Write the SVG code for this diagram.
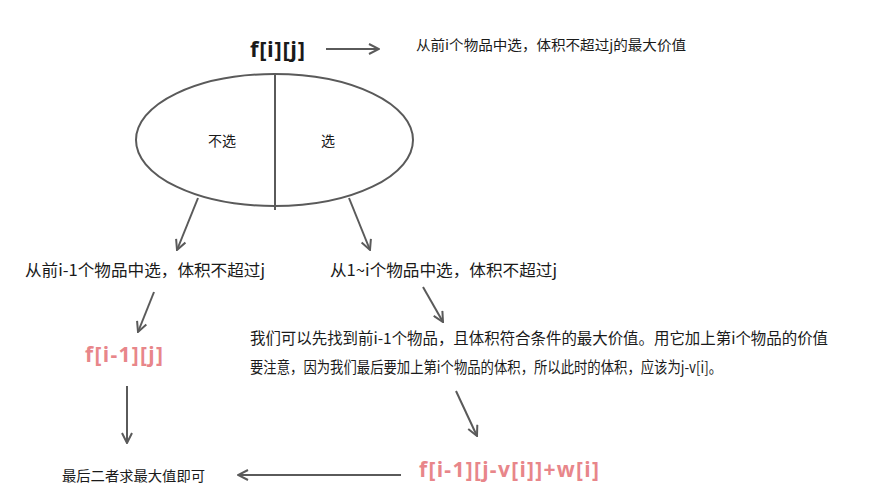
<svg xmlns="http://www.w3.org/2000/svg" width="869" height="503" viewBox="0 0 869 503">
<style>
.bg{fill:#ffffff}
.ln{stroke:#5a5a5a;stroke-width:2;fill:none}
.cn{font-family:"Noto Sans CJK SC","Microsoft YaHei",sans-serif;fill:#1a1a1a}
.f{font-family:"Open Sans","DejaVu Sans",sans-serif;font-weight:bold}
.pk{fill:#e8868a}
</style>
<defs>
<marker id="ah" viewBox="0 0 12 12" refX="11" refY="6" markerWidth="12" markerHeight="12" markerUnits="userSpaceOnUse" orient="auto">
<path d="M1,1 L11,6 L1,11" fill="none" stroke="#5a5a5a" stroke-width="2"/>
</marker>
</defs>
<rect class="bg" width="869" height="503"/>
<g id="top">
<text class="f" x="250" y="57" font-size="22" fill="#1a1a1a" textLength="55" lengthAdjust="spacing">f[i][j]</text>
</g>
<g id="desc">
<text class="cn" x="416" y="50" font-size="14" textLength="270" lengthAdjust="spacingAndGlyphs">从前i个物品中选，体积不超过j的最大价值</text>
</g>
<g id="split">
<ellipse class="ln" cx="274.5" cy="140" rx="138.5" ry="66"/>
<line class="ln" x1="275" y1="74" x2="275" y2="210"/>
<text class="cn" x="208" y="146" font-size="14">不选</text>
<text class="cn" x="321" y="146" font-size="14">选</text>
</g>
<g id="left">
<text class="cn" x="25" y="276" font-size="16" textLength="240" lengthAdjust="spacingAndGlyphs">从前i-1个物品中选，体积不超过j</text>
</g>
<g id="right">
<text class="cn" x="330" y="276" font-size="16" textLength="227" lengthAdjust="spacingAndGlyphs">从1~i个物品中选，体积不超过j</text>
</g>
<g id="fl">
<text class="f pk" x="85" y="362" font-size="21" textLength="78" lengthAdjust="spacing">f[i-1][j]</text>
</g>
<g id="para">
<text class="cn" x="250" y="344" font-size="15.5" textLength="578" lengthAdjust="spacingAndGlyphs">我们可以先找到前i-1个物品，且体积符合条件的最大价值。用它加上第i个物品的价值</text>
<text class="cn" x="250" y="373" font-size="15.5" textLength="472" lengthAdjust="spacingAndGlyphs">要注意，因为我们最后要加上第i个物品的体积，所以此时的体积，应该为j-v[i]。</text>
</g>
<g id="fr">
<text class="f pk" x="419" y="477" font-size="21" textLength="180" lengthAdjust="spacing">f[i-1][j-v[i]]+w[i]</text>
</g>
<g id="final">
<text class="cn" x="62" y="481" font-size="14" textLength="143" lengthAdjust="spacingAndGlyphs">最后二者求最大值即可</text>
</g>
<g id="connectors">
<line class="ln" x1="326" y1="49" x2="379" y2="49" marker-end="url(#ah)"/>
<line class="ln" x1="198" y1="198" x2="177" y2="250" marker-end="url(#ah)"/>
<line class="ln" x1="349" y1="198" x2="370" y2="250" marker-end="url(#ah)"/>
<line class="ln" x1="154" y1="292" x2="138" y2="332" marker-end="url(#ah)"/>
<line class="ln" x1="423" y1="287" x2="443" y2="322" marker-end="url(#ah)"/>
<line class="ln" x1="127" y1="386" x2="127" y2="443" marker-end="url(#ah)"/>
<line class="ln" x1="456" y1="391" x2="477" y2="436" marker-end="url(#ah)"/>
<line class="ln" x1="401" y1="475" x2="238" y2="475" marker-end="url(#ah)"/>
</g>
</svg>
